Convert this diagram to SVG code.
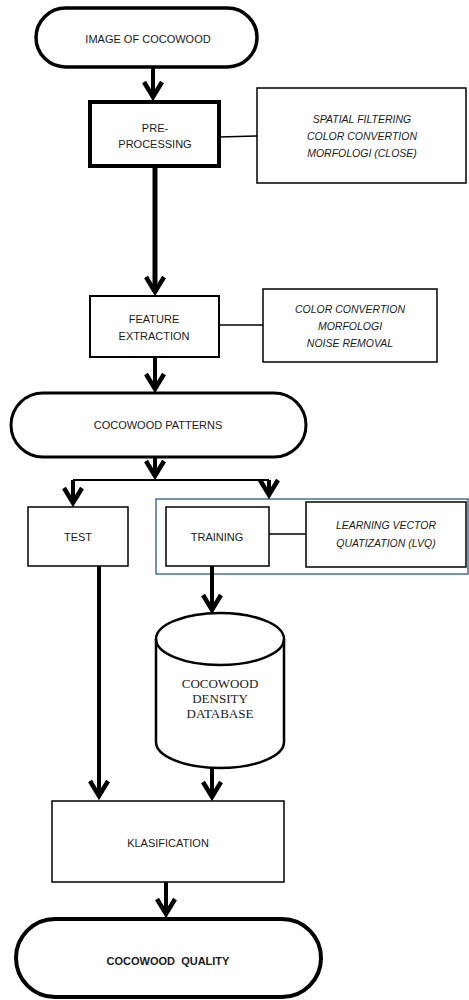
<svg xmlns="http://www.w3.org/2000/svg" width="469" height="1000" viewBox="0 0 469 1000">
<style>
.t{font-family:"Liberation Sans",Arial,sans-serif;font-size:11px;fill:#1a1a1a;text-anchor:middle}
.i{font-family:"Liberation Sans",Arial,sans-serif;font-size:10.5px;font-style:italic;fill:#1a1a1a;text-anchor:middle}
.b{font-family:"Liberation Sans",Arial,sans-serif;font-size:11px;font-weight:bold;fill:#1a1a1a;text-anchor:middle;white-space:pre}
.s{font-family:"Liberation Serif","Times New Roman",serif;font-size:13px;fill:#1a1a1a;text-anchor:middle}
.box{fill:#fff;stroke:#000}
.arr{stroke:#000;stroke-width:4;fill:none;marker-end:url(#ah)}
.thin{stroke:#000;stroke-width:1.5;fill:none}
</style>
<defs>
<marker id="ah" viewBox="-20 -16 36 32" refX="0" refY="0" markerWidth="36" markerHeight="32" markerUnits="userSpaceOnUse" orient="auto">
<path d="M-15,-9 L0,0 L-15,9" fill="none" stroke="#000" stroke-width="4.5" stroke-linejoin="miter"/>
</marker>
</defs>
<rect width="469" height="1000" fill="#fff"/>

<g id="training-group">
<rect x="156" y="499" width="312" height="75" fill="none" stroke="#41719C" stroke-width="1.5"/>
</g>

<g id="connectors">
<line class="arr" x1="153" y1="68" x2="153" y2="97"/>
<line class="arr" x1="155" y1="166" x2="155" y2="292" style="stroke-width:5"/>
<line class="arr" x1="155" y1="357" x2="155" y2="389"/>
<line class="arr" x1="155" y1="458" x2="155" y2="476"/>
<line stroke="#000" stroke-width="2" x1="73" y1="480" x2="269" y2="480"/>
<line class="arr" x1="73" y1="480" x2="73" y2="503"/>
<line class="arr" x1="269" y1="480" x2="269" y2="495"/>
<line class="arr" x1="99" y1="566" x2="99" y2="796"/>
<line class="arr" x1="212" y1="566" x2="212" y2="610"/>
<line class="arr" x1="212" y1="768" x2="212" y2="797"/>
<line class="arr" x1="166" y1="882" x2="166" y2="914"/>
<line class="thin" x1="219" y1="137" x2="257" y2="136"/>
<line class="thin" x1="212" y1="325" x2="263" y2="325"/>
<line class="thin" x1="257" y1="534" x2="306" y2="534"/>
</g>

<g id="image-of-cocowood">
<rect class="box" x="36" y="8" width="221" height="59" rx="29.5" stroke-width="3.5"/>
<text class="t" x="148" y="43">IMAGE OF COCOWOOD</text>
</g>

<g id="pre-processing">
<rect class="box" x="90" y="102" width="129" height="64" stroke-width="4"/>
<text class="t" x="155" y="132">PRE-</text>
<text class="t" x="155" y="148">PROCESSING</text>
</g>

<g id="pre-processing-note">
<rect class="box" x="257" y="88" width="209" height="95" stroke-width="1.5"/>
<text class="i" x="362" y="123">SPATIAL FILTERING</text>
<text class="i" x="362" y="140">COLOR CONVERTION</text>
<text class="i" x="362" y="157">MORFOLOGI (CLOSE)</text>
</g>

<g id="feature-extraction">
<rect class="box" x="90" y="296" width="129" height="61" stroke-width="2"/>
<text class="t" x="154" y="323">FEATURE</text>
<text class="t" x="154" y="340">EXTRACTION</text>
</g>

<g id="feature-note">
<rect class="box" x="263" y="289" width="174" height="73" stroke-width="1.5"/>
<text class="i" x="350" y="313">COLOR CONVERTION</text>
<text class="i" x="350" y="330">MORFOLOGI</text>
<text class="i" x="350" y="347">NOISE REMOVAL</text>
</g>

<g id="cocowood-patterns">
<rect class="box" x="11" y="393" width="295" height="64" rx="32" stroke-width="3"/>
<text class="t" x="158" y="429">COCOWOOD PATTERNS</text>
</g>

<g id="test">
<rect class="box" x="28" y="507" width="100" height="59" stroke-width="1.5"/>
<text class="t" x="78" y="541">TEST</text>
</g>

<g id="training">
<rect class="box" x="166" y="507" width="103" height="59" stroke-width="1.5"/>
<text class="t" x="217" y="541">TRAINING</text>
</g>

<g id="lvq-note">
<rect class="box" x="306" y="502" width="160" height="65" stroke-width="1.5"/>
<text class="i" x="386" y="529">LEARNING VECTOR</text>
<text class="i" x="386" y="547">QUATIZATION (LVQ)</text>
</g>

<g id="database">
<path d="M156,639 A64,26 0 0,1 284,639 L284,742 A64,26 0 0,1 156,742 Z" fill="#fff" stroke="#000" stroke-width="2.5"/>
<path d="M156,639 A64,26 0 0,0 284,639" fill="none" stroke="#000" stroke-width="2.5"/>
<text class="s" x="220" y="688">COCOWOOD</text>
<text class="s" x="220" y="703">DENSITY</text>
<text class="s" x="220" y="718">DATABASE</text>
</g>

<g id="klasification">
<rect class="box" x="52" y="801" width="232" height="81" stroke-width="1.5"/>
<text class="t" x="168" y="847">KLASIFICATION</text>
</g>

<g id="cocowood-quality">
<rect class="box" x="16" y="919" width="305" height="78" rx="39" stroke-width="4"/>
<text class="b" x="168" y="965">COCOWOOD  QUALITY</text>
</g>
</svg>
